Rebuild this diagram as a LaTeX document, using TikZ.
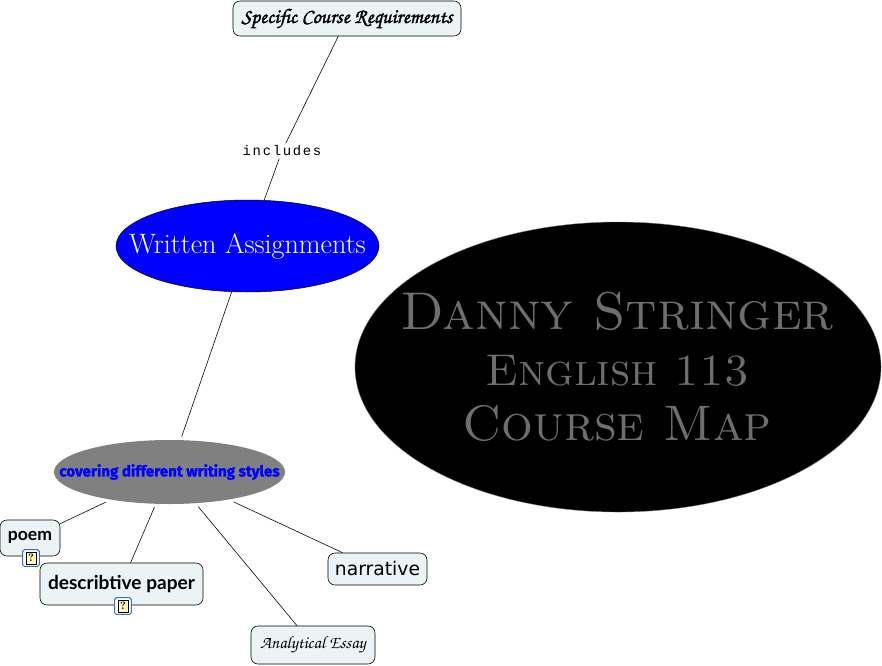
\documentclass[tikz,border=0pt]{standalone}
\usepackage{fontspec}
\usetikzlibrary{shapes.geometric}
\newfontfamily\chorusfont{TeX Gyre Chorus}
\newfontfamily\chorusheavy[FakeBold=1.5]{TeX Gyre Chorus}
\newfontfamily\labelfont{Lato}
\newfontfamily\narrowfont[FakeBold=1.5]{Fira Sans}
\newfontfamily\veryfont{DejaVu Sans}
\newfontfamily\linkfont[LetterSpace=12]{Liberation Mono}
\definecolor{boxfill}{HTML}{ECF3F5}
\definecolor{titlegray}{HTML}{6E6E6E}
\definecolor{iconblue}{HTML}{3A6FC0}
\tikzset{
  conceptbox/.style={draw=black, fill=boxfill, rounded corners=6pt, line width=0.5pt, inner sep=0pt},
  concept/.style={ellipse, inner sep=0pt, align=center},
  linkline/.style={line width=0.5pt, black},
  iconframe/.style={draw=iconblue, fill=white, rounded corners=1.5pt, line width=0.8pt, minimum size=0.5cm, inner sep=0pt},
  icondoc/.style={draw=black, fill=yellow!25, line width=0.4pt, minimum width=0.3cm, minimum height=0.36cm, inner sep=0pt, font=\bfseries\fontsize{9}{9}\selectfont}
}
\begin{document}
\begin{tikzpicture}[x=0.03cm, y=-0.03cm]
        \useasboundingbox (0,0) rectangle (882,666);

        % Course map title
        \node[concept, fill=black, draw=gray, line width=0.3pt, minimum width=15.78cm, minimum height=8.7cm] (titleoval) at (618,367) {};
        \node[align=center, text=titlegray, inner sep=0pt, font=\fontsize{45.4}{47.6}\selectfont\scshape] (title) at (617,367)
            {Danny Stringer\\ \fontsize{38}{47.6}\selectfont English 113\\ \fontsize{42.6}{47.6}\selectfont Course Map};

        % Concepts down the left side
        \node[conceptbox, minimum width=6.84cm, minimum height=1.05cm] (specific) at (347,18.5)
            {\chorusheavy\fontsize{17.7}{17.7}\selectfont Specific Course Requirements};
        \node[inner sep=2pt, font=\linkfont\fontsize{11.9}{11.9}\selectfont] (includes) at (282,151) {includes};
        \node[concept, fill=blue, draw=black, line width=0.4pt, minimum width=7.89cm, minimum height=2.76cm, text=white] (written) at (247.5,246)
            {\makebox[0pt]{\fontsize{24}{24}\selectfont Written Assignments}};
        \node[concept, fill=gray, minimum width=6.93cm, minimum height=1.92cm, outer sep=3pt, text=blue] (styles) at (169.5,472)
            {\makebox[0pt]{\narrowfont\bfseries\fontsize{12.9}{12.9}\selectfont covering different writing styles}};

        % Writing styles
        \node[conceptbox, minimum width=1.8cm, minimum height=1.08cm] (poem) at (30,538)
            {\raisebox{3pt}{\labelfont\bfseries\fontsize{15}{15}\selectfont poem}};
        \node[conceptbox, minimum width=4.89cm, minimum height=1.26cm] (descriptive) at (121.5,584)
            {\raisebox{3pt}{\labelfont\bfseries\fontsize{16.3}{16.3}\selectfont describtive paper}};
        \node[conceptbox, minimum width=2.97cm, minimum height=0.96cm] (narrative) at (377.5,569)
            {\veryfont\fontsize{16}{16}\selectfont narrative};
        \node[conceptbox, minimum width=3.72cm, minimum height=1.14cm] (analytical) at (313,645)
            {\chorusfont\fontsize{15}{15}\selectfont Analytical Essay};

        % Links
        \draw[linkline] (specific) -- (includes);
        \draw[linkline] (includes) -- (written);
        \draw[linkline] (written) -- (styles);
        \draw[linkline] (styles) -- (poem);
        \draw[linkline] (styles) -- (descriptive);
        \draw[linkline] (styles) -- (narrative);
        \draw[linkline] (styles) -- (analytical);

        % Annotation icons
        \node[iconframe] (poemframe) at (31,558) {};
        \node[icondoc] (poemnote) at (poemframe) {?};
        \node[iconframe] (descriptiveframe) at (123,606) {};
        \node[icondoc] (descriptivenote) at (descriptiveframe) {?};
\end{tikzpicture}
\end{document}
